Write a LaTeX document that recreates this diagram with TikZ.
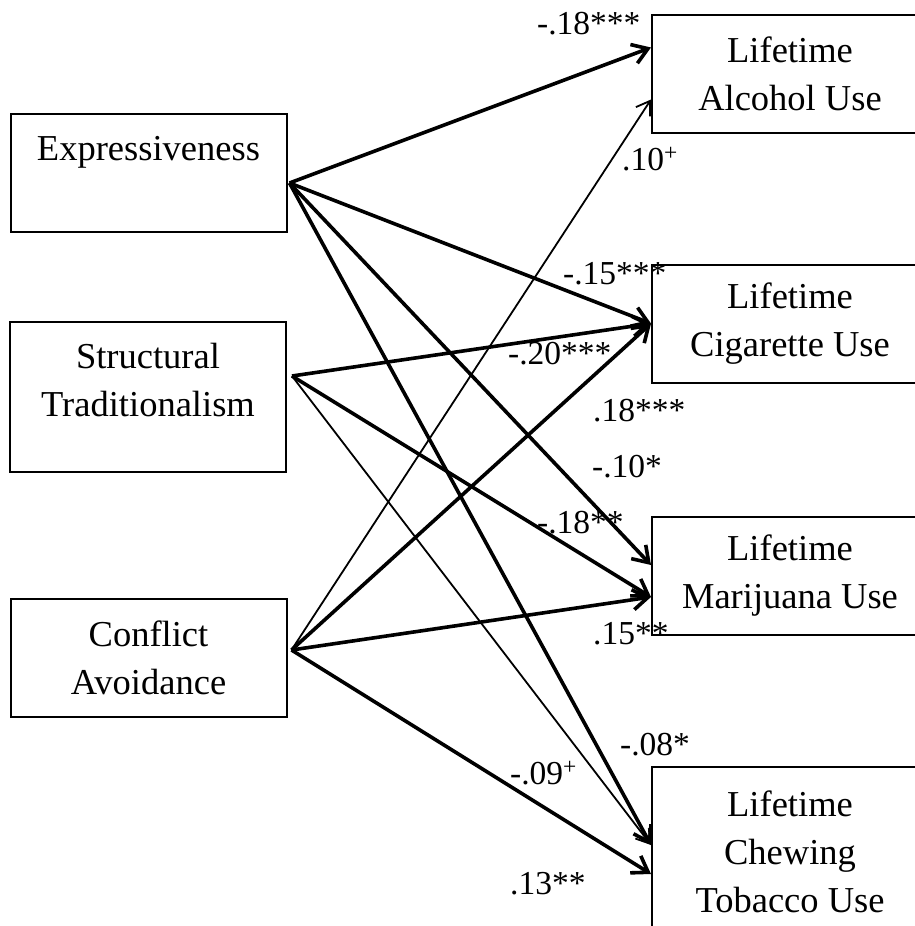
\documentclass[tikz,border=0pt]{standalone}
\usepackage{fontspec}
\setmainfont{Liberation Serif}
\usetikzlibrary{arrows.meta, calc}

\begin{document}
\begin{tikzpicture}[x=1pt, y=-1pt,
  var/.style={draw, line width=2pt, minimum width=276pt, minimum height=118pt, inner sep=0pt, align=center, font=\fontsize{36.5}{48}\selectfont},
  bold/.style={line width=3.6pt, -{Straight Barb[length=15pt, width=20pt]}},
  slim/.style={line width=1.8pt, -{Straight Barb[length=13pt, width=17pt]}},
  coef/.style={inner sep=0pt, anchor=west, text height=22pt, text depth=0pt, font=\fontsize{33.5}{40}\selectfont}]
  \clip (0,0) rectangle (915,926);
  \node[var, text depth=50pt] (expr) at (148.5,173) {Expressiveness};
  \node[var, minimum height=150pt, text depth=34pt] (strc) at (148,397) {Structural\\Traditionalism};
  \node[var] (conf) at (148.5,658) {Conflict\\Avoidance};
  \node[var] (alc) at (790,73.5) {Lifetime\\Alcohol Use};
  \node[var] (cig) at (790,323.5) {Lifetime\\Cigarette Use};
  \node[var] (mar) at (790,576) {Lifetime\\Marijuana Use};
  \node[var, minimum height=170pt] (chew) at (790,852) {Lifetime\\Chewing\\Tobacco Use};

  \draw[bold] ([xshift=2pt, yshift=-10pt]expr.east) -- ([yshift=26pt]alc.west);
  \draw[bold] ([xshift=2pt, yshift=-10pt]expr.east) -- (cig.west);
  \draw[bold] ([xshift=2pt, yshift=-10pt]expr.east) -- ([yshift=11pt]mar.west);
  \draw[bold] ([xshift=2pt, yshift=-10pt]expr.east) -- ([yshift=7pt]chew.west);
  \draw[bold] ([xshift=5pt, yshift=21pt]strc.east) -- (cig.west);
  \draw[bold] ([xshift=5pt, yshift=21pt]strc.east) -- ([yshift=-21pt]mar.west);
  \draw[slim] ([xshift=5pt, yshift=21pt]strc.east) -- ([yshift=7pt]chew.west);
  \draw[slim] ([xshift=4pt, yshift=8pt]conf.east) -- ([yshift=-26pt]alc.west);
  \draw[bold] ([xshift=4pt, yshift=8pt]conf.east) -- (cig.west);
  \draw[bold] ([xshift=4pt, yshift=8pt]conf.east) -- ([yshift=-21pt]mar.west);
  \draw[bold] ([xshift=4pt, yshift=8pt]conf.east) -- ([yshift=-22pt]chew.west);

  \node[coef] (ea) at (537,23) {-.18***};
  \node[coef] (ca) at (622,159) {.10\textsuperscript{+}};
  \node[coef] (ec) at (563,273) {-.15***};
  \node[coef] (sc) at (508,353) {-.20***};
  \node[coef] (cc) at (593,410) {.18***};
  \node[coef] (em) at (592,466) {-.10*};
  \node[coef] (sm) at (537,522) {-.18**};
  \node[coef] (cm) at (593,633) {.15**};
  \node[coef] (ew) at (620,744) {-.08*};
  \node[coef] (sw) at (510,773) {-.09\textsuperscript{+}};
  \node[coef] (cw) at (510,883) {.13**};
\end{tikzpicture}
\end{document}
